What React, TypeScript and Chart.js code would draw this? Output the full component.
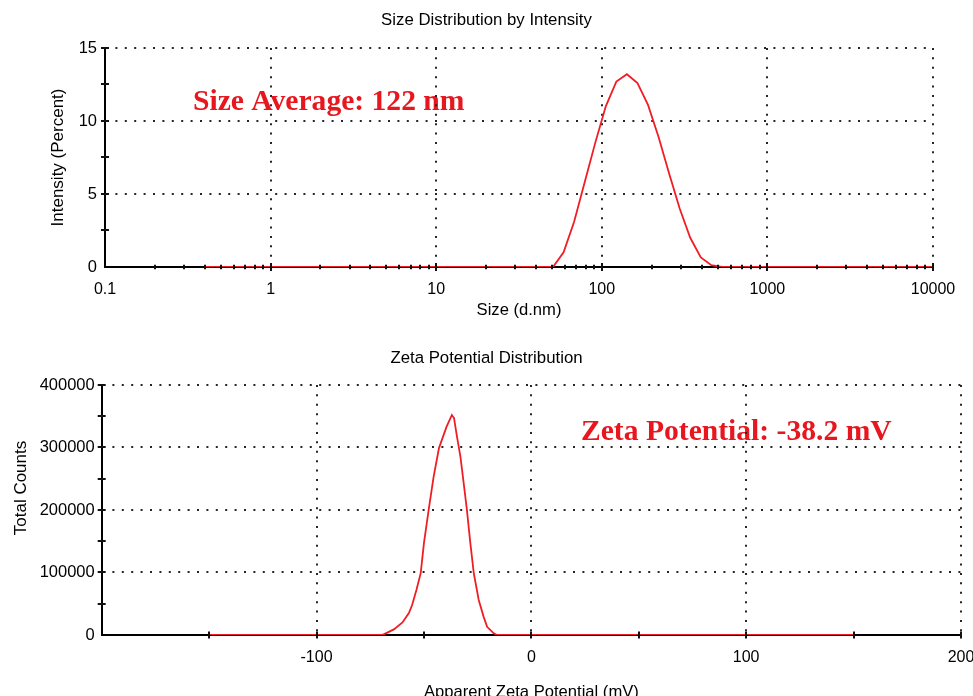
import React, { useEffect, useRef } from "react";
import { Chart, registerables } from "chart.js";

Chart.register(...registerables);

const SANS = '"Liberation Sans", Arial, sans-serif';
const SERIF = '"Liberation Serif", "Times New Roman", serif';

// ---------- Size distribution (top) ----------
const sizeTitle = "Size Distribution by Intensity";
const sizeXTitle = "Size (d.nm)";
const sizeYTitle = "Intensity (Percent)";
const sizeNote = "Size Average: 122 nm";

const sizeNm = [
  0.4, 0.4632, 0.5365, 0.6213, 0.7195, 0.8332, 0.9649, 1.117, 1.294, 1.499,
  1.736, 2.01, 2.328, 2.696, 3.122, 3.615, 4.187, 4.849, 5.615, 6.503,
  7.531, 8.721, 10.1, 11.7, 13.54, 15.69, 18.17, 21.04, 24.36, 28.21,
  32.67, 37.84, 43.82, 50.75, 58.77, 68.06, 78.82, 91.28, 105.7, 122.4,
  141.8, 164.2, 190.1, 220.2, 255.0, 295.3, 342.0, 396.1, 458.7, 531.2,
  615.1, 712.4, 825.0, 955.4, 1106, 1281, 1484, 1718, 1990, 2305,
  2669, 3091, 3580, 4145, 4801, 5560, 6439, 7456, 8635, 10000,
];
const intensityPct = [
  0, 0, 0, 0, 0, 0, 0, 0, 0, 0,
  0, 0, 0, 0, 0, 0, 0, 0, 0, 0,
  0, 0, 0, 0, 0, 0, 0, 0, 0, 0,
  0, 0, 0, 0, 1.0, 3.1, 5.8, 8.5, 11.0, 12.7,
  13.2, 12.6, 11.1, 8.9, 6.4, 4.0, 2.0, 0.65, 0.12, 0,
  0, 0, 0, 0, 0, 0, 0, 0, 0, 0,
  0, 0, 0, 0, 0, 0, 0, 0, 0, 0,
];
const sizeMajorTicks = [0.1, 1, 10, 100, 1000, 10000];
const sizeMinorMultipliers = [2, 3, 4, 5, 6, 7, 8, 9];
const sizeTickLabels = ["0.1", "1", "10", "100", "1000", "10000"];
const intensityTicks = [0, 2.5, 5, 7.5, 10, 12.5, 15];
const intensityLabelled = [0, 5, 10, 15];

// ---------- Zeta potential (bottom) ----------
const zetaTitle = "Zeta Potential Distribution";
const zetaXTitle = "Apparent Zeta Potential (mV)";
const zetaYTitle = "Total Counts";
const zetaNote = "Zeta Potential: -38.2 mV";

const zetaMv = [
  -150, -70, -68.5, -64, -60, -57, -55.5, -53.5, -51.5, -50,
  -47.8, -45.5, -43, -39.5, -37, -36, -34.6, -33, -31.5, -30,
  -28.4, -26.8, -24.5, -22.2, -20.6, -17.5, -16, 150,
];
const zetaCounts = [
  0, 0, 1500, 9000, 20000, 35000, 48000, 72000, 99000, 147000,
  200000, 253000, 299000, 333000, 352000, 347000, 317000, 285000, 243000, 200000,
  147000, 99000, 56000, 29000, 13000, 2700, 0, 0,
];
const zetaXTicks = [-200, -150, -100, -50, 0, 50, 100, 150, 200];
const zetaXLabelled = [-100, 0, 100, 200];
const countsTicks = [0, 50000, 100000, 150000, 200000, 250000, 300000, 350000, 400000];
const countsLabelled = [0, 100000, 200000, 300000, 400000];

// ---------- styles ----------
const LINE_RED = "rgb(240,30,36)";
const NOTE_RED = "rgb(232,22,30)";
const DOT = "#262626";
const DASH = [2, 7.4];

const crossTicks = {
  id: "crossTicks",
  afterDatasetsDraw(chart: any, _a: any, opts: any) {
    const { ctx, chartArea: a } = chart;
    const xs = chart.scales.x;
    const ys = chart.scales.y;
    ctx.save();
    ctx.strokeStyle = "#111";
    ctx.lineWidth = 2;
    const seg = (x1: number, y1: number, x2: number, y2: number) => {
      ctx.beginPath();
      ctx.moveTo(x1, y1);
      ctx.lineTo(x2, y2);
      ctx.stroke();
    };
    for (const t of xs.ticks) {
      if (t.value === xs.min) continue;
      const px = Math.round(xs.getPixelForValue(t.value));
      const major = (opts.majorX || []).includes(t.value);
      const h = major ? opts.majorLen : opts.minorLen;
      seg(px, a.bottom - h, px, a.bottom + h);
    }
    for (const t of ys.ticks) {
      if (t.value === ys.min) continue;
      const py = Math.round(ys.getPixelForValue(t.value));
      seg(a.left - 4, py, a.left + 4, py);
    }
    ctx.restore();
  },
};

// text notes are painted before the scales, so the dotted grid passes over them
const textNotes = {
  id: "textNotes",
  beforeDraw(chart: any, _a: any, opts: any) {
    const { ctx } = chart;
    for (const n of opts.items || []) {
      ctx.save();
      ctx.font = n.font;
      ctx.fillStyle = n.color;
      ctx.textAlign = n.align || "left";
      ctx.textBaseline = n.baseline || "alphabetic";
      ctx.translate(n.x, n.y);
      if (n.rotate) ctx.rotate(n.rotate);
      ctx.fillText(n.text, 0, 0);
      ctx.restore();
    }
  },
};

function gridColor(labelled: number[], min: number) {
  return (c: any) =>
    c.tick && c.tick.value !== min && labelled.includes(c.tick.value) ? DOT : "rgba(0,0,0,0)";
}

function makeSizeConfig(): any {
  const allTicks: number[] = [];
  sizeMajorTicks.forEach((d, i) => {
    allTicks.push(d);
    if (i < sizeMajorTicks.length - 1) sizeMinorMultipliers.forEach((m) => allTicks.push(d * m));
  });
  return {
    type: "line",
    data: {
      datasets: [
        {
          data: sizeNm.map((x, i) => ({ x, y: intensityPct[i] })),
          borderColor: LINE_RED,
          borderWidth: 1.8,
          pointRadius: 0,
          tension: 0,
          fill: false,
        },
      ],
    },
    options: {
      responsive: false,
      animation: false,
      devicePixelRatio: 1,
      layout: { padding: 0 },
      plugins: {
        legend: { display: false },
        tooltip: { enabled: false },
        title: {
          display: true,
          text: sizeTitle,
          color: "#000",
          font: { family: SANS, size: 16.8, weight: "normal" },
          padding: { top: 10, bottom: 17.8 },
        },
        crossTicks: { majorX: sizeMajorTicks, majorLen: 4, minorLen: 2.2 },
        textNotes: {
          items: [
            { text: sizeNote, x: 193, y: 110, font: `bold 29.6px ${SERIF}`, color: NOTE_RED },
          ],
        },
      },
      scales: {
        x: {
          type: "logarithmic",
          min: 0.1,
          max: 10000,
          afterBuildTicks: (s: any) => {
            s.ticks = allTicks.map((v) => ({ value: v }));
          },
          afterFit: (s: any) => {
            s.height = 63;
            s.paddingLeft = 0;
            s.paddingRight = 40;
          },
          ticks: {
            autoSkip: false,
            maxRotation: 0,
            padding: 13.4,
            color: "#000",
            font: { family: SANS, size: 16 },
            callback: (v: number) => {
              const i = sizeMajorTicks.indexOf(v);
              return i >= 0 ? sizeTickLabels[i] : "";
            },
          },
          grid: { color: gridColor(sizeMajorTicks, 0.1), lineWidth: 2, drawTicks: false },
          border: { display: true, color: "#000", width: 2, dash: DASH },
          title: {
            display: true,
            text: sizeXTitle,
            color: "#000",
            font: { family: SANS, size: 16.6 },
            padding: { top: 0, bottom: 9.8 },
          },
        },
        y: {
          type: "linear",
          min: 0,
          max: 15,
          afterBuildTicks: (s: any) => {
            s.ticks = intensityTicks.map((v) => ({ value: v }));
          },
          afterFit: (s: any) => {
            s.width = 105;
          },
          ticks: {
            autoSkip: false,
            padding: 8,
            color: "#000",
            font: { family: SANS, size: 16.5 },
            callback: (v: number) => (intensityLabelled.includes(v) ? String(v) : ""),
          },
          grid: { color: gridColor(intensityLabelled, 0), lineWidth: 2, drawTicks: false },
          border: { display: true, color: "#000", width: 2, dash: DASH },
          title: {
            display: true,
            text: sizeYTitle,
            color: "#000",
            font: { family: SANS, size: 17 },
            padding: { top: 47.8, bottom: 0 },
          },
        },
      },
    },
    plugins: [crossTicks, textNotes],
  };
}

function makeZetaConfig(): any {
  return {
    type: "line",
    data: {
      datasets: [
        {
          data: zetaMv.map((x, i) => ({ x, y: zetaCounts[i] })),
          borderColor: LINE_RED,
          borderWidth: 1.8,
          pointRadius: 0,
          tension: 0,
          fill: false,
        },
      ],
    },
    options: {
      responsive: false,
      animation: false,
      devicePixelRatio: 1,
      layout: { padding: 0 },
      plugins: {
        legend: { display: false },
        tooltip: { enabled: false },
        title: {
          display: true,
          text: zetaTitle,
          color: "#000",
          font: { family: SANS, size: 16.8, weight: "normal" },
          padding: { top: 18, bottom: 16.8 },
        },
        crossTicks: { majorX: zetaXTicks, majorLen: 3.5, minorLen: 3.5 },
        textNotes: {
          items: [
            { text: zetaNote, x: 581, y: 110, font: `bold 29.6px ${SERIF}`, color: NOTE_RED },
            {
              text: zetaYTitle,
              x: 21.7,
              y: 158,
              rotate: -Math.PI / 2,
              align: "center",
              baseline: "middle",
              font: `17px ${SANS}`,
              color: "#000",
            },
          ],
        },
      },
      scales: {
        x: {
          type: "linear",
          min: -200,
          max: 200,
          afterBuildTicks: (s: any) => {
            s.ticks = zetaXTicks.map((v) => ({ value: v }));
          },
          afterFit: (s: any) => {
            s.height = 75;
            s.paddingLeft = 0;
            s.paddingRight = 12;
          },
          ticks: {
            autoSkip: false,
            maxRotation: 0,
            padding: 13.4,
            color: "#000",
            font: { family: SANS, size: 16 },
            callback: (v: number) => (zetaXLabelled.includes(v) ? String(v) : ""),
          },
          grid: { color: gridColor(zetaXLabelled, -200), lineWidth: 2, drawTicks: false },
          border: { display: true, color: "#000", width: 2, dash: DASH },
          title: {
            display: true,
            text: zetaXTitle,
            color: "#000",
            font: { family: SANS, size: 16.6 },
            padding: { top: 0, bottom: 7.8 },
          },
        },
        y: {
          type: "linear",
          min: 0,
          max: 400000,
          afterBuildTicks: (s: any) => {
            s.ticks = countsTicks.map((v) => ({ value: v }));
          },
          afterFit: (s: any) => {
            s.width = 101.7;
          },
          ticks: {
            autoSkip: false,
            padding: 7,
            color: "#000",
            font: { family: SANS, size: 16.5 },
            callback: (v: number) => (countsLabelled.includes(v) ? String(v) : ""),
          },
          grid: { color: gridColor(countsLabelled, 0), lineWidth: 2, drawTicks: false },
          border: { display: true, color: "#000", width: 2, dash: DASH },
          title: { display: false },
        },
      },
    },
    plugins: [crossTicks, textNotes],
  };
}

export default function App() {
  const topRef = useRef<HTMLCanvasElement | null>(null);
  const botRef = useRef<HTMLCanvasElement | null>(null);

  useEffect(() => {
    const c1 = new Chart(topRef.current as HTMLCanvasElement, makeSizeConfig());
    const c2 = new Chart(botRef.current as HTMLCanvasElement, makeZetaConfig());
    return () => {
      c1.destroy();
      c2.destroy();
    };
  }, []);

  return (
    <div
      style={{
        position: "fixed",
        left: 0,
        top: 0,
        width: 973,
        height: 696,
        overflow: "hidden",
        background: "#fff",
      }}
    >
      <canvas
        ref={topRef}
        width={973}
        height={330}
        style={{ position: "absolute", left: 0, top: 0, width: 973, height: 330, display: "block" }}
      />
      <canvas
        ref={botRef}
        width={973}
        height={380}
        style={{ position: "absolute", left: 0, top: 330, width: 973, height: 380, display: "block" }}
      />
    </div>
  );
}
